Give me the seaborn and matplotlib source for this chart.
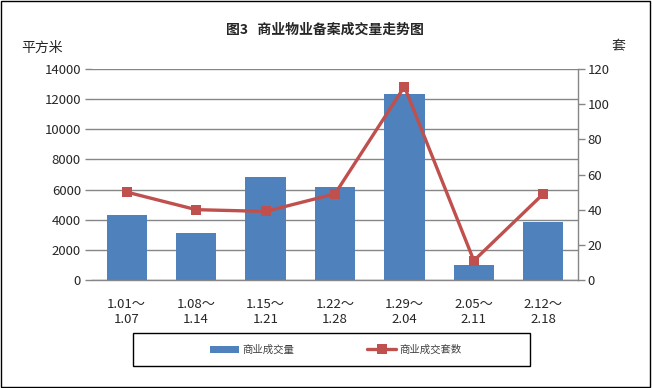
import numpy as np
import pandas as pd
import matplotlib
matplotlib.use("Agg")
import matplotlib.pyplot as plt
import seaborn as sns
from matplotlib.patches import Rectangle, Patch
from matplotlib.lines import Line2D

categories = ["1.01～\n1.07", "1.08～\n1.14", "1.15～\n1.21", "1.22～\n1.28",
              "1.29～\n2.04", "2.05～\n2.11", "2.12～\n2.18"]
area_values = [4300, 3130, 6850, 6190, 12350, 1000, 3850]
unit_values = [50, 40, 39, 49, 110, 11, 49]
left_ticks = [0, 2000, 4000, 6000, 8000, 10000, 12000, 14000]
right_ticks = [0, 20, 40, 60, 80, 100, 120]

sns.set_theme(style="white")
plt.rcParams['font.family'] = ['Noto Sans CJK SC', 'DejaVu Sans']

BLUE = "#4F81BD"
RED = "#C0504D"
GREY = "#868686"

fig = plt.figure(figsize=(6.52, 3.88), dpi=100)
ax = fig.add_axes([92/652, 1-280/388, (578-92)/652, (280-69)/388])

df = pd.DataFrame({"cat": categories, "area": area_values, "units": unit_values})
sns.barplot(data=df, x="cat", y="area", color=BLUE, width=0.58, ax=ax,
            saturation=1, zorder=2, linewidth=0, edgecolor="none")
ax.set_ylim(0, 14000)
ax.set_yticks(left_ticks)
ax.set_xlim(-0.5, 6.5)
ax.set_xlabel("")
ax.set_ylabel("")
ax.yaxis.grid(True, color=GREY, linewidth=1)
ax.set_axisbelow(True)
for s in ["top", "right", "left"]:
    ax.spines[s].set_visible(False)
ax.spines["bottom"].set_color(GREY)
ax.spines["bottom"].set_linewidth(1)
ax.tick_params(axis="y", left=True, length=5, width=1, color=GREY, labelsize=9.5, pad=3)
ax.tick_params(axis="x", bottom=False, labelsize=9.5, pad=7)

ax2 = ax.twinx()
ax2.set_position(ax.get_position())
sns.lineplot(x=np.arange(len(unit_values)), y=unit_values, ax=ax2, color=RED,
             linewidth=2.4, marker="s", markersize=6.5, markeredgewidth=0,
             zorder=3)
ax2.set_ylim(0, 120)
ax2.set_yticks(right_ticks)
ax2.set_xlim(-0.5, 6.5)
ax2.set_ylabel("")
for s in ["top", "left", "bottom"]:
    ax2.spines[s].set_visible(False)
ax2.spines["right"].set_color(GREY)
ax2.spines["right"].set_linewidth(1)
ax2.tick_params(axis="y", right=True, length=5, width=1, color=GREY, labelsize=9.5, pad=2)
ax2.grid(False)

fig.text(325/652, 1-30/388, "图3   商业物业备案成交量走势图", ha="center", va="center",
         fontsize=10, fontweight="bold")
fig.text(42/652, 1-48/388, "平方米", ha="center", va="center", fontsize=10)
fig.text(618/652, 1-46/388, "套", ha="center", va="center", fontsize=10)

# legend box
fig.patches.append(Rectangle((133/652, 1-366/388), 397/652, 33/388,
                             transform=fig.transFigure, fill=False,
                             edgecolor="black", linewidth=1))
handles = [Patch(facecolor=BLUE, edgecolor="none"),
           Line2D([0], [0], color=RED, linewidth=2.4, marker="s", markersize=6.5,
                  markeredgewidth=0)]
fig.legend(handles, ["商业成交量", "商业成交套数"], loc="center",
           bbox_to_anchor=(336/652, 1-350/388), ncol=2, frameon=False,
           fontsize=7.5, handlelength=2.8, handleheight=0.7, columnspacing=7,
           handletextpad=0.3, labelcolor="#404040")

fig.patches.append(Rectangle((0.002, 0.003), 0.995, 0.994, transform=fig.transFigure,
                             fill=False, edgecolor="black", linewidth=1))

fig.savefig("out.png", dpi=100)
